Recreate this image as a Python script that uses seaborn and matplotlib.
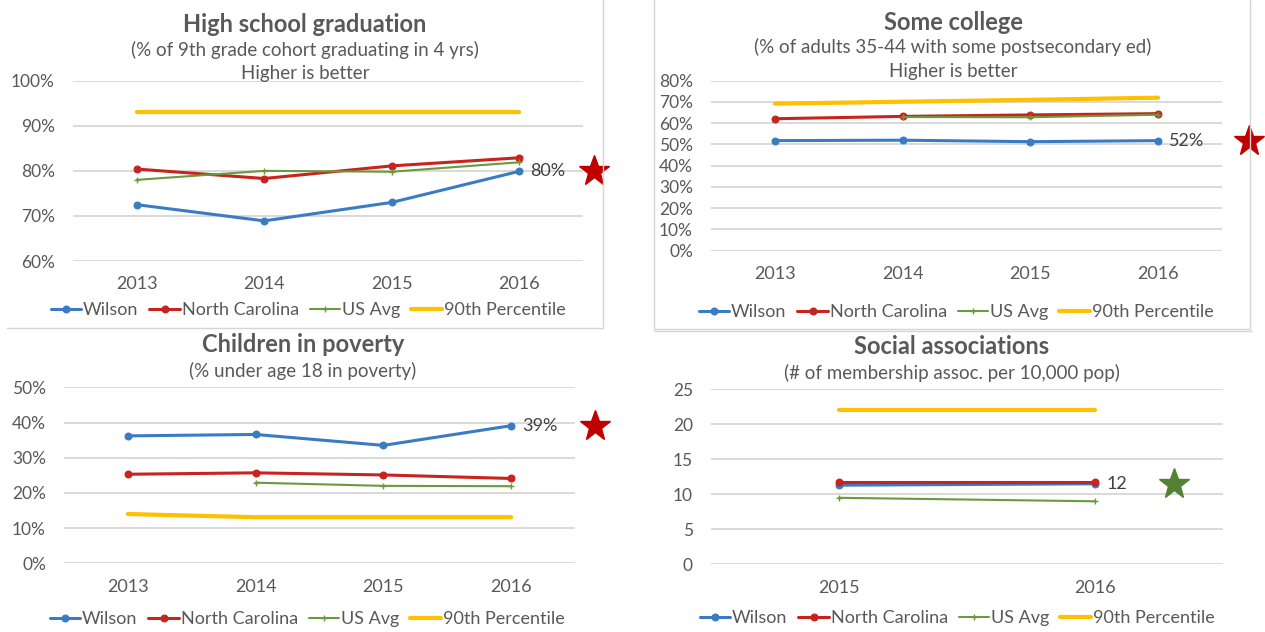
import numpy as np
import pandas as pd
import matplotlib.pyplot as plt
import seaborn as sns
from matplotlib.lines import Line2D
from matplotlib.ticker import FuncFormatter

W, H = 1265, 632

SERIES = ["Wilson", "North Carolina", "US Avg", "90th Percentile"]
COLORS = {
    "Wilson":          "#3A7CC3",
    "North Carolina":  "#C8231C",
    "US Avg":          "#6A9A3C",
    "90th Percentile": "#FFC000",
}

# High school graduation (% of cohort)
grad_years  = ["2013", "2014", "2015", "2016"]
grad_wilson = [72.5, 68.9, 73.0, 79.9]
grad_nc     = [80.4, 78.3, 81.1, 82.9]
grad_us     = [78.0, 80.0, 79.8, 81.9]
grad_p90    = [93.0, 93.0, 93.0, 93.0]

# Some college (% of adults 35-44)
college_years  = ["2013", "2014", "2015", "2016"]
college_wilson = [51.8, 52.0, 51.3, 51.8]
college_nc     = [62.1, 63.2, 63.9, 64.5]
college_us     = [np.nan, 62.9, 62.8, 64.0]
college_p90    = [69.2, 70.1, 71.0, 72.0]

# Children in poverty (%)
poverty_years  = ["2013", "2014", "2015", "2016"]
poverty_wilson = [36.2, 36.6, 33.5, 39.1]
poverty_nc     = [25.3, 25.7, 25.1, 24.1]
poverty_us     = [np.nan, 22.9, 22.0, 21.9]
poverty_p90    = [14.0, 13.1, 13.1, 13.1]

# Social associations (per 10,000 pop)
social_years  = ["2015", "2016"]
social_wilson = [11.3, 11.5]
social_nc     = [11.7, 11.7]
social_us     = [9.5, 9.0]
social_p90    = [22.0, 22.0]

STYLE = {
    "Wilson":          dict(lw=2.2, marker="o", markersize=5),
    "North Carolina":  dict(lw=2.2, marker="o", markersize=5),
    "US Avg":          dict(lw=1.5, marker="+", markersize=5, markeredgewidth=1),
    "90th Percentile": dict(lw=3.0, marker=None),
}

TEXT = "#595959"
GRID = "#D9D9D9"

sns.set_theme(style="white")
plt.rcParams["font.family"] = ["Lato", "DejaVu Sans"]


def fx(px):
    return px / W


def fy(py):
    return 1 - py / H


def add_axes(fig, x0, x1, y0, y1):
    return fig.add_axes([fx(x0), fy(y1), (x1 - x0) / W, (y1 - y0) / H])


def draw_panel(fig, ax, years, values, ylim, step, pct, star_x, star_color, legend_xy):
    n = len(years)
    df = pd.DataFrame({"x": np.arange(n), **values})
    for name in SERIES:
        sns.lineplot(data=df, x="x", y=name, ax=ax, color=COLORS[name],
                     markeredgecolor=COLORS[name], label=name,
                     errorbar=None, **STYLE[name])

    ax.set_xlim(-0.5, n - 0.5)
    ax.set_ylim(*ylim)
    ax.set_xticks(range(n), years)
    ax.set_yticks(np.arange(ylim[0], ylim[1] + step / 2, step))
    if pct:
        ax.yaxis.set_major_formatter(FuncFormatter(lambda v, _: f"{v:.0f}%"))
    ax.set_xlabel("")
    ax.set_ylabel("")
    ax.yaxis.grid(True, color=GRID, lw=1.4)
    ax.xaxis.grid(False)
    ax.set_axisbelow(True)
    sns.despine(ax=ax, left=True, bottom=True)
    ax.tick_params(axis="x", length=0, pad=11, labelsize=13, labelcolor=TEXT)
    ax.tick_params(axis="y", length=0, pad=13, labelsize=12.5, labelcolor=TEXT)

    last = values["Wilson"][-1]
    ax.annotate(f"{last:.0f}" + ("%" if pct else ""), xy=(n - 1, last),
                xytext=(8, 0), textcoords="offset points",
                ha="left", va="center", fontsize=13, color="#404040")
    ax.plot([star_x], [last], marker="*", markersize=23, color=star_color,
            clip_on=False, lw=0)

    handles, labels = ax.get_legend_handles_labels()
    ax.legend(handles[:4], labels[:4], ncol=4, frameon=False, loc="center",
              bbox_to_anchor=(fx(legend_xy[0]), fy(legend_xy[1])),
              bbox_transform=fig.transFigure, fontsize=13,
              handlelength=1.7, handletextpad=0.1, columnspacing=0.6,
              labelcolor=TEXT)


def titles(fig, cx, lines):
    title, rest = lines[0], lines[1:]
    fig.text(fx(cx), fy(title[1]), title[0], ha="center", va="center",
             fontsize=17, fontweight="bold", color=TEXT)
    for txt, y in rest:
        fig.text(fx(cx), fy(y), txt, ha="center", va="center",
                 fontsize=13.5, color=TEXT)


fig = plt.figure(figsize=(W / 100, H / 100), dpi=100)

ax1 = add_axes(fig, 73, 583, 80.7, 261)
draw_panel(fig, ax1, grad_years,
           {"Wilson": grad_wilson, "North Carolina": grad_nc,
            "US Avg": grad_us, "90th Percentile": grad_p90},
           (60, 100), 10, True, 3.59, "#C00000", (308, 310))
titles(fig, 305, [("High school graduation", 24),
                  ("(% of 9th grade cohort graduating in 4 yrs)", 50),
                  ("Higher is better", 73)])

ax2 = add_axes(fig, 711, 1222, 80.7, 250.7)
draw_panel(fig, ax2, college_years,
           {"Wilson": college_wilson, "North Carolina": college_nc,
            "US Avg": college_us, "90th Percentile": college_p90},
           (0, 80), 10, True, 3.71, "#C00000", (956, 312))
titles(fig, 953, [("Some college", 23),
                  ("(% of adults 35-44 with some postsecondary ed)", 47),
                  ("Higher is better", 71)])

ax3 = add_axes(fig, 64, 575, 387.3, 563.3)
draw_panel(fig, ax3, poverty_years,
           {"Wilson": poverty_wilson, "North Carolina": poverty_nc,
            "US Avg": poverty_us, "90th Percentile": poverty_p90},
           (0, 50), 10, True, 3.66, "#C00000", (307, 619))
titles(fig, 303, [("Children in poverty", 345),
                  ("(% under age 18 in poverty)", 371)])

ax4 = add_axes(fig, 711, 1223, 389.3, 564.3)
draw_panel(fig, ax4, social_years,
           {"Wilson": social_wilson, "North Carolina": social_nc,
            "US Avg": social_us, "90th Percentile": social_p90},
           (0, 25), 5, False, 1.31, "#548235", (957, 618))
titles(fig, 952, [("Social associations", 347),
                  ("(# of membership assoc. per 10,000 pop)", 373)])

# light frame lines around the copied chart boxes
for (x0, y0, x1, y1) in [(603, 0, 603, 328), (7, 328, 603, 328),
                         (654, 0, 654, 329), (1250, 0, 1250, 329),
                         (654, 329, 1250, 329), (654, 331, 1252, 331)]:
    fig.add_artist(Line2D([fx(x0), fx(x1)], [fy(y0), fy(y1)],
                          transform=fig.transFigure, color="#D5D5D5", lw=1))

fig.savefig("out.png", dpi=100)
